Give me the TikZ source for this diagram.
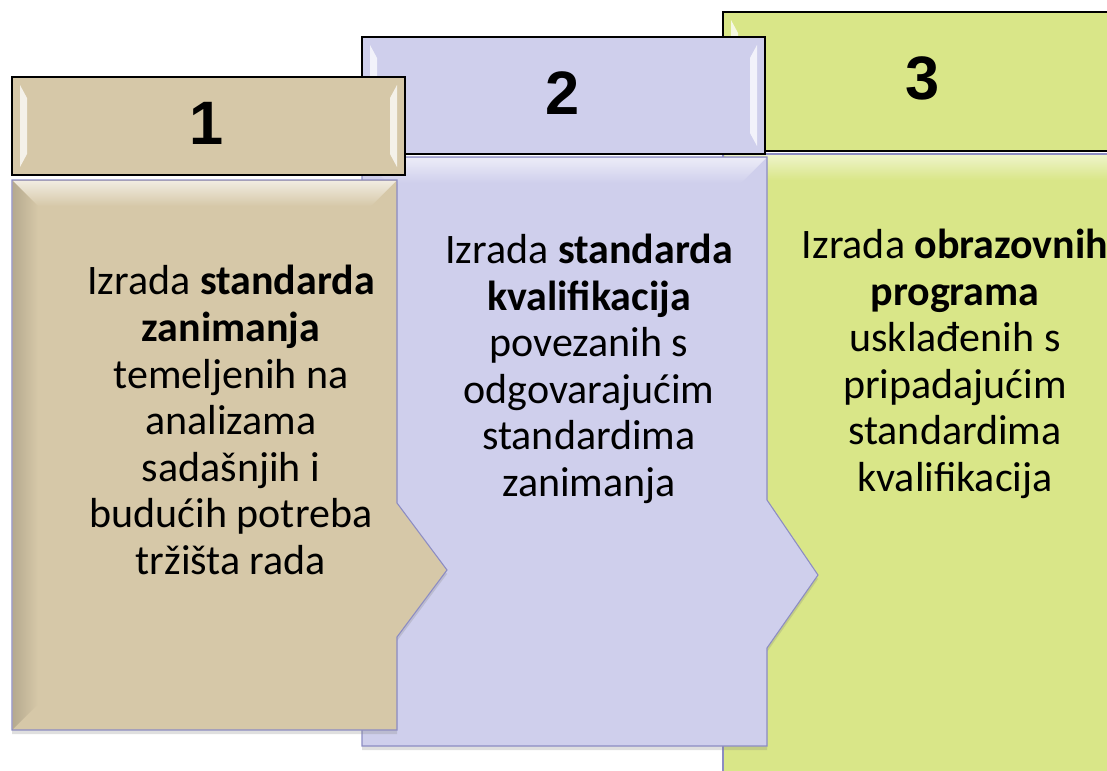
\documentclass[tikz,border=0pt]{standalone}
\usepackage{fontspec}
\setmainfont{Carlito}
\newfontfamily\numfont{Liberation Sans}
\usetikzlibrary{shadows}
\definecolor{tanfill}{RGB}{214,200,168}
\definecolor{lavfill}{RGB}{207,207,236}
\definecolor{limefill}{RGB}{217,230,136}
\definecolor{edgeblue}{RGB}{140,140,195}

\begin{document}
\begin{tikzpicture}[x=0.75pt,y=-0.75pt,
    header_box/.style ={draw=black, line width=1pt},
    body_box/.style ={draw=edgeblue, line width=0.8pt,
      drop shadow={opacity=0.25, shadow xshift=0pt, shadow yshift=-3pt}},
    num_text/.style ={font=\numfont\bfseries\fontsize{46}{46}\selectfont},
    body_text/.style ={align=center, font=\fontsize{31.5}{34.9}\selectfont},
    bevel_light/.style ={fill=white, opacity=0.75, draw=none}]
    \clip (0,0) rectangle (1107,771);
    % column 3
    \path[body_box, fill=limefill] (723,154) -- (1130,154) -- (1130,800) -- (723,800) -- cycle;
    \shade[top color=white!55!limefill, bottom color=limefill, draw=none]
      (724,155) -- (1130,155) -- (1130,180) -- (749,180) -- cycle;
    \path[header_box, fill=limefill] (723,12) rectangle (1130,151);
    \path[bevel_light] (731,20) -- (738,33) -- (738,130) -- (731,143) -- cycle;
    \node[num_text] (num_three) at (923,78) {3};
    \node[body_text] (desc_three) at (955,364) {Izrada \textbf{obrazovnih}\\ \textbf{programa}\\ usklađenih s\\ pripadajućim\\ standardima\\ kvalifikacija};
    % column 2
    \path[body_box, fill=lavfill] (362,157) -- (767,157) -- (767,500) -- (818,575)
      -- (767,648) -- (767,746) -- (362,746) -- cycle;
    \shade[top color=white!60!lavfill, bottom color=lavfill, draw=none]
      (363,158) -- (766,158) -- (741,183) -- (388,183) -- cycle;
    \path[header_box, fill=lavfill] (362,37) rectangle (765,154);
    \path[bevel_light] (370,45) -- (377,58) -- (377,133) -- (370,146) -- cycle;
    \path[bevel_light] (757,45) -- (750,58) -- (750,133) -- (757,146) -- cycle;
    \node[num_text] (num_two) at (563,93) {2};
    \node[body_text] (desc_two) at (589,369) {Izrada \textbf{standarda}\\ \textbf{kvalifikacija}\\ povezanih s\\ odgovarajućim\\ standardima\\ zanimanja};
    % column 1
    \path[body_box, fill=tanfill] (12,180) -- (397,180) -- (397,503) -- (447,570)
      -- (397,637) -- (397,730) -- (12,730) -- cycle;
    \shade[top color=white!65!tanfill, bottom color=tanfill, draw=none]
      (13,181) -- (396,181) -- (371,206) -- (38,206) -- cycle;
    \shade[left color=tanfill!85!black, right color=tanfill, draw=none]
      (13,181) -- (38,206) -- (38,704) -- (13,729) -- cycle;
    \path[header_box, fill=tanfill] (12,77) rectangle (405,175);
    \path[bevel_light] (20,85) -- (27,98) -- (27,154) -- (20,167) -- cycle;
    \path[bevel_light] (397,85) -- (390,98) -- (390,154) -- (397,167) -- cycle;
    \node[num_text] (num_one) at (207,123) {1};
    \node[body_text] (desc_one) at (231,420) {Izrada \textbf{standarda}\\ \textbf{zanimanja}\\ temeljenih na\\ analizama\\ sadašnjih i\\ budućih potreba\\ tržišta rada};
\end{tikzpicture}
\end{document}
